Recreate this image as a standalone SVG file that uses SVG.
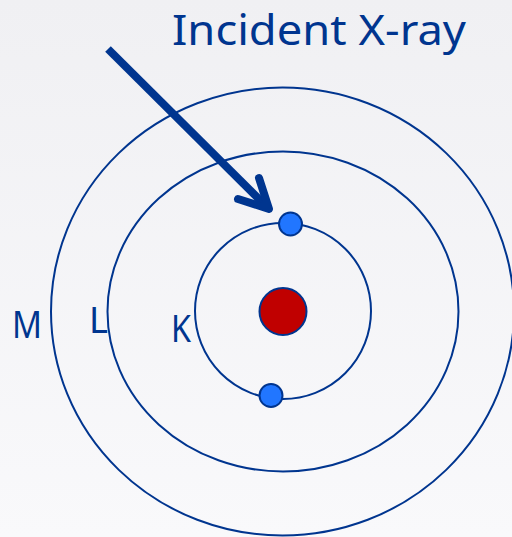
<svg xmlns="http://www.w3.org/2000/svg" width="512" height="537" viewBox="0 0 512 537">
<style>
.orbit{fill:none;stroke:#00358f;stroke-width:2}
.lbl{font-family:"Noto Sans","Liberation Sans",sans-serif;fill:#00358f}
.el{fill:#2176ff;stroke:#00358f;stroke-width:2}
</style>
<defs>
<linearGradient id="bg" x1="0" y1="0" x2="0" y2="1">
<stop offset="0" stop-color="#f0f0f3"/>
<stop offset="1" stop-color="#f9f9fb"/>
</linearGradient>
</defs>
<rect width="512" height="537" fill="url(#bg)"/>
<g id="orbit-M"><ellipse class="orbit" cx="282.5" cy="311.5" rx="231.5" ry="224"/></g>
<g id="orbit-L"><ellipse class="orbit" cx="283" cy="311.5" rx="175.5" ry="160"/></g>
<g id="orbit-K"><ellipse class="orbit" cx="283" cy="311" rx="88" ry="88"/></g>
<g id="nucleus"><circle cx="283" cy="311.5" r="23.5" fill="#c00000" stroke="#00358f" stroke-width="2"/></g>
<g id="electron-top"><circle class="el" cx="290.5" cy="224" r="11.5"/></g>
<g id="electron-bottom"><circle class="el" cx="271" cy="395.5" r="11.5"/></g>
<g id="connectors">
<line x1="108" y1="49" x2="266" y2="206" stroke="#00358f" stroke-width="8"/>
<path d="M238,199 L269,209 L259,178" fill="none" stroke="#00358f" stroke-width="8" stroke-linecap="round" stroke-linejoin="round"/>
</g>
<g id="labels">
<text class="lbl" x="172" y="45" font-size="42" textLength="294" lengthAdjust="spacingAndGlyphs">Incident X-ray</text>
<text class="lbl" x="12" y="338" font-size="38" textLength="30" lengthAdjust="spacingAndGlyphs">M</text>
<text class="lbl" x="89" y="333" font-size="36" textLength="19" lengthAdjust="spacingAndGlyphs">L</text>
<text class="lbl" x="171" y="342" font-size="38" textLength="20" lengthAdjust="spacingAndGlyphs">K</text>
</g>
</svg>
